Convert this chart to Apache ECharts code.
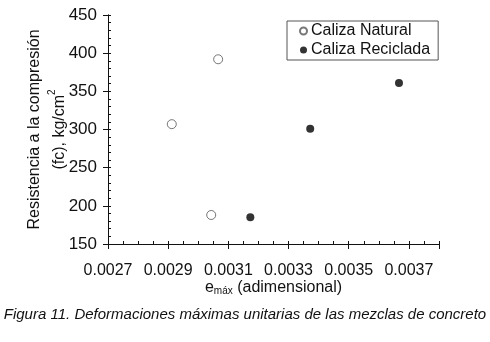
<!DOCTYPE html>
<html>
<head>
<meta charset="utf-8">
<script src="https://cdn.jsdelivr.net/npm/echarts@6/dist/echarts.min.js"></script>
<style>
  html, body { margin: 0; padding: 0; background: #fff; }
  #chart { width: 490px; height: 342px; }
</style>
</head>
<body>
<div id="chart"></div>
<script>
// strain at max load vs compressive strength
const naturalX = [0.002912, 0.003066, 0.003043]
const naturalY = [307, 392, 188]
const recycledX = [0.003173, 0.003372, 0.003667]
const recycledY = [185, 301, 361]
const seriesNames = ['Caliza Natural', 'Caliza Reciclada']
const caption = 'Figura 11. Deformaciones máximas unitarias de las mezclas de concreto'

const font = 'Liberation Sans, Arial, sans-serif'
const black = '#111'

const zip = (xs, ys) => xs.map((x, i) => [x, ys[i]])

const chart = echarts.init(document.getElementById('chart'))

const baseX = {
  type: 'value',
  position: 'bottom',
  min: 0.0027,
  max: 0.0038,
  splitLine: { show: false },
  axisLine: { lineStyle: { color: black, width: 1 } },
}
const baseY = {
  type: 'value',
  position: 'left',
  min: 150,
  max: 450,
  splitLine: { show: false },
  axisLine: { lineStyle: { color: black, width: 1 } },
}

chart.setOption({
  animation: false,
  backgroundColor: '#fff',
  title: {
    text: caption,
    left: 'center',
    top: 302,
    textStyle: { fontFamily: font, fontSize: 15, fontWeight: 'normal', fontStyle: 'italic', color: black },
  },
  grid: { left: 108, top: 15, right: 51, bottom: 98 },
  legend: {
    orient: 'vertical',
    left: 287,
    top: 21,
    width: 154,
    padding: [2, 8, 2, 12],
    itemGap: 3,
    itemWidth: 7,
    itemHeight: 7,
    borderColor: '#555',
    borderWidth: 1,
    textStyle: { fontFamily: font, fontSize: 16, color: black, padding: [0, 0, 0, -1] },
    data: seriesNames,
  },
  xAxis: [
    {
      ...baseX,
      interval: 0.0002,
      showMaxLabel: false,
      axisTick: { length: 5, lineStyle: { color: black } },
      axisLabel: {
        margin: 19,
        fontFamily: font, fontSize: 16, color: black,
        formatter: v => v > 0.00375 ? '' : v.toFixed(4),
      },
      name: '{e|e}{sub|máx}{t| (adimensional)}',
      nameLocation: 'middle',
      nameMoveOverlap: false,
      nameGap: 36,
      nameTextStyle: {
        rich: {
          e: { fontFamily: font, fontSize: 16, color: black },
          sub: { fontFamily: font, fontSize: 10, color: black, verticalAlign: 'bottom', padding: [6, 0, 0, 0] },
          t: { fontFamily: font, fontSize: 16, color: black },
        },
      },
    },
    {
      ...baseX,
      interval: 0.00005,
      axisTick: { inside: true, length: 3, lineStyle: { color: black } },
      axisLabel: { show: false },
    },
  ],
  yAxis: [
    {
      ...baseY,
      interval: 50,
      axisTick: { length: 5, lineStyle: { color: black } },
      axisLabel: { margin: 11, fontFamily: font, fontSize: 17, color: black },
      name: '{a|Resistencia a la compresión}\n{a|(fc), kg/cm}{sup|2}',
      nameLocation: 'middle',
      nameMoveOverlap: false,
      nameGap: 36,
      nameTextStyle: {
        rich: {
          a: { fontFamily: font, fontSize: 16, color: black, lineHeight: 25 },
          sup: { fontFamily: font, fontSize: 10, color: black, verticalAlign: 'top', lineHeight: 25 },
        },
      },
    },
    {
      ...baseY,
      interval: 10,
      axisTick: { inside: true, length: 3, lineStyle: { color: black } },
      axisLabel: { show: false },
    },
  ],
  series: [
    {
      name: seriesNames[0],
      type: 'scatter',
      symbol: 'circle',
      symbolSize: 9,
      itemStyle: { color: '#fff', borderColor: '#555', borderWidth: 1 },
      data: zip(naturalX, naturalY),
    },
    {
      name: seriesNames[1],
      type: 'scatter',
      symbol: 'circle',
      symbolSize: 8,
      itemStyle: { color: '#000' },
      data: zip(recycledX, recycledY),
    },
  ],
})
</script>
</body>
</html>
